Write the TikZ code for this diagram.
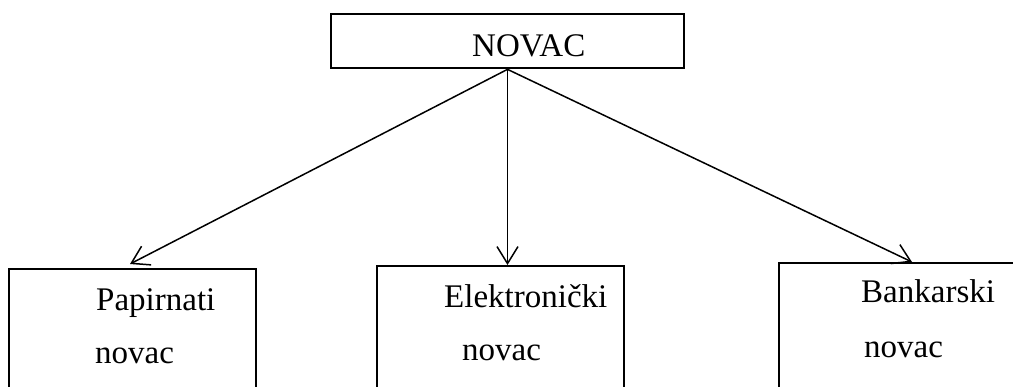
\documentclass[tikz,border=0pt]{standalone}
\usepackage{fontspec}
\setmainfont{Liberation Serif}
\usetikzlibrary{arrows.meta}
\begin{document}
\begin{tikzpicture}[x=1pt,y=-1pt,
  box/.style={draw, line width=2.7pt, rectangle, inner sep=0pt},
  lbl/.style={anchor=base west, inner sep=0pt, font=\fontsize{33}{40}\selectfont},
  arr/.style={line width=1.5pt, -{Straight Barb[length=17pt,width=21pt]}}]
\useasboundingbox (0,0) rectangle (1013,386);
\fill[white] (0,0) rectangle (1013,386);
\node[box, minimum width=353pt, minimum height=54pt] (top) at (507.5,41) {};
\node[box, minimum width=247pt, minimum height=126pt] (b1) at (132.5,332) {};
\node[box, minimum width=247pt, minimum height=129pt] (b2) at (500.5,330.5) {};
\node[box, minimum width=251pt, minimum height=132pt] (b3) at (904.5,329) {};
\coordinate (t1) at (130,264);
\coordinate (t2) at (507.5,265);
\coordinate (t3) at (912,262);
\draw[arr] (top.south) -- (t1);
\draw[arr] (top.south) -- (t2);
\draw[arr] (top.south) -- (t3);
\node[lbl] (n) at (472,56) {NOVAC};
\node[lbl] (p1) at (96,310) {Papirnati};
\node[lbl] (p2) at (95,363) {novac};
\node[lbl] (e1) at (444,307) {Elektronički};
\node[lbl] (e2) at (462,360) {novac};
\node[lbl] (k1) at (861,302) {Bankarski};
\node[lbl] (k2) at (864,357) {novac};
\end{tikzpicture}
\end{document}
